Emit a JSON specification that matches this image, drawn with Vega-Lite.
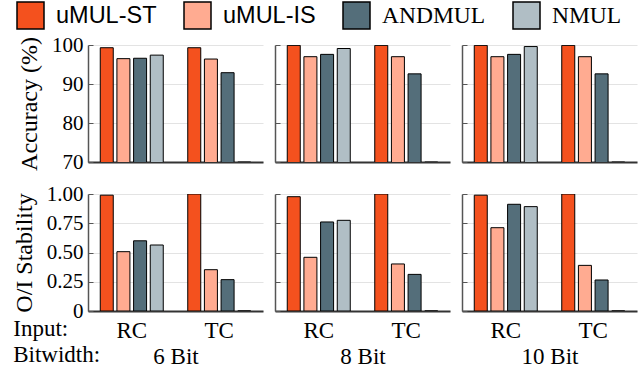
{
  "$schema": "https://vega.github.io/schema/vega-lite/v6.json",
  "padding": {"left": 12, "top": 1, "right": 5, "bottom": 2},
  "background": "white",
  "datasets": {
    "d": [
      {"bit": "6 Bit", "input": "RC", "method": "uMUL-ST", "acc": 99.3, "stab": 0.99},
      {"bit": "6 Bit", "input": "RC", "method": "uMUL-IS", "acc": 96.5, "stab": 0.507},
      {"bit": "6 Bit", "input": "RC", "method": "ANDMUL", "acc": 96.6, "stab": 0.60},
      {"bit": "6 Bit", "input": "RC", "method": "NMUL", "acc": 97.4, "stab": 0.564},
      {"bit": "6 Bit", "input": "TC", "method": "uMUL-ST", "acc": 99.3, "stab": 1.0},
      {"bit": "6 Bit", "input": "TC", "method": "uMUL-IS", "acc": 96.4, "stab": 0.353},
      {"bit": "6 Bit", "input": "TC", "method": "ANDMUL", "acc": 92.9, "stab": 0.268},
      {"bit": "6 Bit", "input": "TC", "method": "NMUL", "acc": 70, "stab": 0},
      {"bit": "8 Bit", "input": "RC", "method": "uMUL-ST", "acc": 99.9, "stab": 0.977},
      {"bit": "8 Bit", "input": "RC", "method": "uMUL-IS", "acc": 97.0, "stab": 0.459},
      {"bit": "8 Bit", "input": "RC", "method": "ANDMUL", "acc": 97.6, "stab": 0.761},
      {"bit": "8 Bit", "input": "RC", "method": "NMUL", "acc": 99.1, "stab": 0.775},
      {"bit": "8 Bit", "input": "TC", "method": "uMUL-ST", "acc": 99.9, "stab": 1.0},
      {"bit": "8 Bit", "input": "TC", "method": "uMUL-IS", "acc": 97.0, "stab": 0.402},
      {"bit": "8 Bit", "input": "TC", "method": "ANDMUL", "acc": 92.6, "stab": 0.313},
      {"bit": "8 Bit", "input": "TC", "method": "NMUL", "acc": 70, "stab": 0},
      {"bit": "10 Bit", "input": "RC", "method": "uMUL-ST", "acc": 99.9, "stab": 0.99},
      {"bit": "10 Bit", "input": "RC", "method": "uMUL-IS", "acc": 97.0, "stab": 0.712},
      {"bit": "10 Bit", "input": "RC", "method": "ANDMUL", "acc": 97.6, "stab": 0.912},
      {"bit": "10 Bit", "input": "RC", "method": "NMUL", "acc": 99.6, "stab": 0.892},
      {"bit": "10 Bit", "input": "TC", "method": "uMUL-ST", "acc": 99.9, "stab": 1.0},
      {"bit": "10 Bit", "input": "TC", "method": "uMUL-IS", "acc": 97.0, "stab": 0.39},
      {"bit": "10 Bit", "input": "TC", "method": "ANDMUL", "acc": 92.6, "stab": 0.265},
      {"bit": "10 Bit", "input": "TC", "method": "NMUL", "acc": 70, "stab": 0}
    ]
  },
  "data": {"name": "d"},
  "title": {
    "text": ["Input:", "Bitwidth:"],
    "orient": "bottom",
    "anchor": "start",
    "font": "Liberation Serif",
    "fontSize": 23,
    "fontWeight": "normal",
    "lineHeight": 26,
    "offset": -50,
    "dx": 1
  },
  "config": {
    "view": {"stroke": null},
    "concat": {"spacing": 11},
    "axis": {
      "labelFont": "Liberation Serif",
      "titleFont": "Liberation Serif",
      "labelColor": "black",
      "titleColor": "black",
      "titleFontWeight": "normal"
    },
    "axisY": {
      "labelFontSize": 21,
      "titleFontSize": 24,
      "domainColor": "#555555",
      "domainWidth": 1.5,
      "tickColor": "#555555",
      "tickSize": -5,
      "labelPadding": 10,
      "titlePadding": 10,
      "gridColor": "#e3e3e3",
      "gridWidth": 1
    },
    "axisX": {
      "labelFontSize": 23,
      "titleFontSize": 23,
      "domainColor": "#333333",
      "domainWidth": 2,
      "ticks": false,
      "labelAngle": 0,
      "labelPadding": 8,
      "titlePadding": 3,
      "grid": false
    },
    "legend": {
      "orient": "none",
      "legendX": -72,
      "legendY": -44,
      "direction": "horizontal",
      "title": null,
      "symbolType": "square",
      "symbolSize": 729,
      "symbolStrokeColor": "black",
      "symbolStrokeWidth": 1.5,
      "symbolOpacity": 1,
      "labelColor": "black",
      "labelOffset": 11,
      "columnPadding": 24,
      "labelFont": {"expr": "datum.label == 'ANDMUL' || datum.label == 'NMUL' ? 'Liberation Serif' : 'Liberation Sans'"},
      "labelFontSize": 23.5
    }
  },
  "vconcat": [
    {
      "hconcat": [
        {
          "width": 175, "height": 117,
          "transform": [{"filter": "datum.bit == '6 Bit'"}],
          "mark": {"type": "bar", "stroke": "black", "strokeWidth": 1, "clip": true},
          "encoding": {
            "x": {"field": "input", "type": "nominal", "scale": {"paddingInner": 0.28, "paddingOuter": 0.14}, "axis": {"labels": false, "title": null}},
            "xOffset": {"field": "method", "type": "nominal", "sort": ["uMUL-ST", "uMUL-IS", "ANDMUL", "NMUL"], "scale": {"paddingInner": 0.22}},
            "y": {"field": "acc", "type": "quantitative", "scale": {"domain": [70, 100]}, "axis": {"values": [70, 80, 90, 100], "title": "Accuracy (%)"}},
            "color": {"field": "method", "type": "nominal", "scale": {"domain": ["uMUL-ST", "uMUL-IS", "ANDMUL", "NMUL"], "range": ["#F4511E", "#FFAB91", "#546E7A", "#B0BEC5"]}}
          }
        },
        {
          "width": 175, "height": 117,
          "transform": [{"filter": "datum.bit == '8 Bit'"}],
          "mark": {"type": "bar", "stroke": "black", "strokeWidth": 1, "clip": true},
          "encoding": {
            "x": {"field": "input", "type": "nominal", "scale": {"paddingInner": 0.28, "paddingOuter": 0.14}, "axis": {"labels": false, "title": null}},
            "xOffset": {"field": "method", "type": "nominal", "sort": ["uMUL-ST", "uMUL-IS", "ANDMUL", "NMUL"], "scale": {"paddingInner": 0.22}},
            "y": {"field": "acc", "type": "quantitative", "scale": {"domain": [70, 100]}, "axis": {"values": [70, 80, 90, 100], "labels": false, "title": null}},
            "color": {"field": "method", "type": "nominal", "scale": {"domain": ["uMUL-ST", "uMUL-IS", "ANDMUL", "NMUL"], "range": ["#F4511E", "#FFAB91", "#546E7A", "#B0BEC5"]}}
          }
        },
        {
          "width": 175, "height": 117,
          "transform": [{"filter": "datum.bit == '10 Bit'"}],
          "mark": {"type": "bar", "stroke": "black", "strokeWidth": 1, "clip": true},
          "encoding": {
            "x": {"field": "input", "type": "nominal", "scale": {"paddingInner": 0.28, "paddingOuter": 0.14}, "axis": {"labels": false, "title": null}},
            "xOffset": {"field": "method", "type": "nominal", "sort": ["uMUL-ST", "uMUL-IS", "ANDMUL", "NMUL"], "scale": {"paddingInner": 0.22}},
            "y": {"field": "acc", "type": "quantitative", "scale": {"domain": [70, 100]}, "axis": {"values": [70, 80, 90, 100], "labels": false, "title": null}},
            "color": {"field": "method", "type": "nominal", "scale": {"domain": ["uMUL-ST", "uMUL-IS", "ANDMUL", "NMUL"], "range": ["#F4511E", "#FFAB91", "#546E7A", "#B0BEC5"]}}
          }
        }
      ]
    },
    {
      "hconcat": [
        {
          "width": 175, "height": 117,
          "transform": [{"filter": "datum.bit == '6 Bit'"}],
          "mark": {"type": "bar", "stroke": "black", "strokeWidth": 1, "clip": true},
          "encoding": {
            "x": {"field": "input", "type": "nominal", "scale": {"paddingInner": 0.28, "paddingOuter": 0.14}, "axis": {"title": "6 Bit"}},
            "xOffset": {"field": "method", "type": "nominal", "sort": ["uMUL-ST", "uMUL-IS", "ANDMUL", "NMUL"], "scale": {"paddingInner": 0.22}},
            "y": {"field": "stab", "type": "quantitative", "scale": {"domain": [0, 1]}, "axis": {"values": [0, 0.25, 0.5, 0.75, 1], "labelExpr": "datum.value == 0 ? '0' : format(datum.value, '.2f')", "title": "O/I Stability"}},
            "color": {"field": "method", "type": "nominal", "scale": {"domain": ["uMUL-ST", "uMUL-IS", "ANDMUL", "NMUL"], "range": ["#F4511E", "#FFAB91", "#546E7A", "#B0BEC5"]}}
          }
        },
        {
          "width": 175, "height": 117,
          "transform": [{"filter": "datum.bit == '8 Bit'"}],
          "mark": {"type": "bar", "stroke": "black", "strokeWidth": 1, "clip": true},
          "encoding": {
            "x": {"field": "input", "type": "nominal", "scale": {"paddingInner": 0.28, "paddingOuter": 0.14}, "axis": {"title": "8 Bit"}},
            "xOffset": {"field": "method", "type": "nominal", "sort": ["uMUL-ST", "uMUL-IS", "ANDMUL", "NMUL"], "scale": {"paddingInner": 0.22}},
            "y": {"field": "stab", "type": "quantitative", "scale": {"domain": [0, 1]}, "axis": {"values": [0, 0.25, 0.5, 0.75, 1], "labels": false, "title": null}},
            "color": {"field": "method", "type": "nominal", "scale": {"domain": ["uMUL-ST", "uMUL-IS", "ANDMUL", "NMUL"], "range": ["#F4511E", "#FFAB91", "#546E7A", "#B0BEC5"]}}
          }
        },
        {
          "width": 175, "height": 117,
          "transform": [{"filter": "datum.bit == '10 Bit'"}],
          "mark": {"type": "bar", "stroke": "black", "strokeWidth": 1, "clip": true},
          "encoding": {
            "x": {"field": "input", "type": "nominal", "scale": {"paddingInner": 0.28, "paddingOuter": 0.14}, "axis": {"title": "10 Bit"}},
            "xOffset": {"field": "method", "type": "nominal", "sort": ["uMUL-ST", "uMUL-IS", "ANDMUL", "NMUL"], "scale": {"paddingInner": 0.22}},
            "y": {"field": "stab", "type": "quantitative", "scale": {"domain": [0, 1]}, "axis": {"values": [0, 0.25, 0.5, 0.75, 1], "labels": false, "title": null}},
            "color": {"field": "method", "type": "nominal", "scale": {"domain": ["uMUL-ST", "uMUL-IS", "ANDMUL", "NMUL"], "range": ["#F4511E", "#FFAB91", "#546E7A", "#B0BEC5"]}}
          }
        }
      ]
    }
  ]
}
